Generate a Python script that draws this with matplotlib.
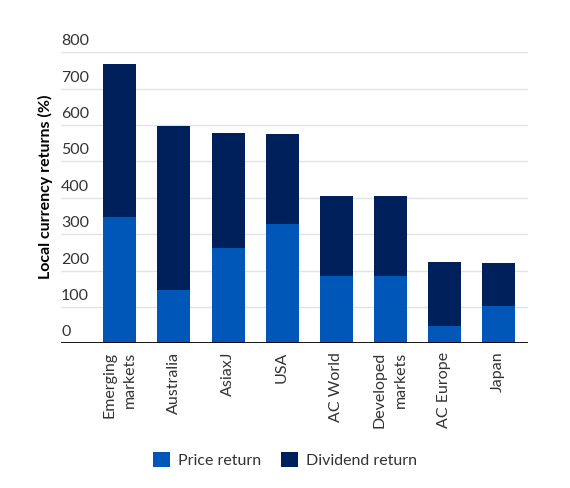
import matplotlib.pyplot as plt
import matplotlib.transforms as mtransforms
import numpy as np

plt.rcParams['font.family'] = ['Lato', 'DejaVu Sans']

markets = ['Emerging\nmarkets', 'Australia', 'AsiaxJ', 'USA', 'AC World',
           'Developed\nmarkets', 'AC Europe', 'Japan']
price_return = [347, 146, 262, 328, 185, 185, 48, 102]
dividend_return = [422, 451, 315, 247, 220, 220, 175, 118]
y_ticks = [0, 100, 200, 300, 400, 500, 600, 700, 800]

price_col = '#0057B8'
div_col = '#00205B'
text_col = '#333333'

fig = plt.figure(figsize=(5.7, 4.88), dpi=100)
ax = fig.add_axes([61/570, 1 - 343.3/488, (528 - 61)/570, (343.3 - 52.3)/488])

x = np.arange(len(markets))
ax.bar(x, price_return, width=0.61, color=price_col, label='Price return', zorder=3)
ax.bar(x, dividend_return, width=0.61, bottom=price_return, color=div_col,
       label='Dividend return', zorder=3)

ax.set_xlim(-1.09, 7.55)
ax.set_ylim(0, 800)

# gridlines, with the tick numbers sitting just above them
for t in y_ticks[1:]:
    ax.axhline(t, color='#e3e3e3', lw=1, zorder=1)
trans = mtransforms.blended_transform_factory(ax.transAxes, ax.transData)
offset = mtransforms.ScaledTranslation(0, 4/100, fig.dpi_scale_trans)
for t in y_ticks:
    ax.text(0, t, str(t), transform=trans + offset, ha='left', va='bottom',
            fontsize=11.5, color=text_col)
ax.axhline(0, color='black', lw=2, zorder=4)

ax.set_yticks([])
ax.set_xticks(x)
ax.set_xticklabels(markets, rotation=90, ha='center', va='top',
                   multialignment='right', fontsize=11.5, color=text_col,
                   linespacing=1.6)
ax.tick_params(axis='x', length=0, pad=6)
for s in ax.spines.values():
    s.set_visible(False)

fig.text(45/570, 1 - 187/488, 'Local currency returns (%)', rotation=90,
         ha='center', va='center', fontsize=11.5, fontweight='bold', color='black')

fig.legend(loc='center', bbox_to_anchor=(285/570, 1 - 460/488), ncol=2,
           frameon=False, handlelength=1.1, handleheight=1.1, handletextpad=0.5,
           columnspacing=1.2, fontsize=11.5, labelcolor=text_col)

fig.savefig('out.png', dpi=100)
